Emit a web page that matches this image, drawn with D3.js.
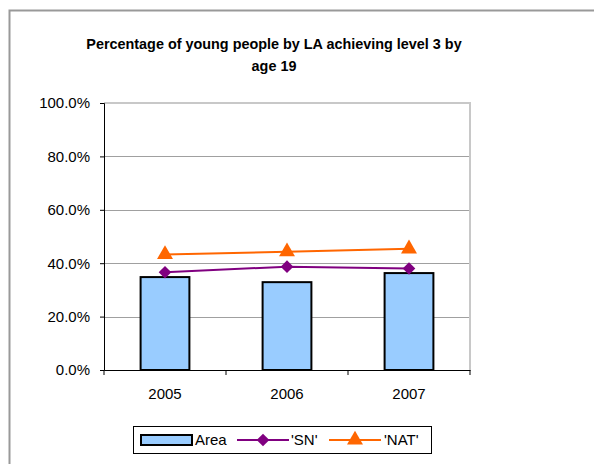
<!DOCTYPE html>
<html>
<head>
<meta charset="utf-8">
<script src="https://cdn.jsdelivr.net/npm/d3@7"></script>
<style>
  body { margin: 0; background: #fff; }
  text { font-family: "Liberation Sans", Arial, sans-serif; }
</style>
</head>
<body>
<svg id="chart" width="594" height="464"></svg>
<script>
const years = ["2005", "2006", "2007"]
const area = [0.348, 0.329, 0.363]
const sn = [0.366, 0.387, 0.380]
const nat = [0.433, 0.443, 0.454]
const yTicks = [0, 0.2, 0.4, 0.6, 0.8, 1.0]
const titleLines = ["Percentage of young people by LA achieving level 3 by", "age 19"]

let svg = d3.select("#chart")

//outer frame (runs off the right and bottom edge)
svg.append("rect")
  .attr("x", 9.5).attr("y", 10.5)
  .attr("width", 700).attr("height", 600)
  .attr("fill", "#fff").attr("stroke", "#999").attr("stroke-width", 2)

//title
svg.append("g").selectAll("text").data(titleLines).enter().append("text")
  .attr("x", 274).attr("y", (d, i) => 49 + i * 22)
  .attr("text-anchor", "middle")
  .attr("font-size", 14.4).attr("font-weight", "bold")
  .text(d => d)

let m = {left: 104, right: 470, top: 103, bottom: 370}
let x = d3.scaleBand().domain(years).range([m.left, m.right])
let y = d3.scaleLinear().domain([0, 1]).range([m.bottom, m.top])

//gridlines
svg.append("g").selectAll("line").data(yTicks.slice(1, -1)).enter().append("line")
  .attr("x1", m.left).attr("x2", m.right)
  .attr("y1", d => Math.round(y(d)) + 0.5).attr("y2", d => Math.round(y(d)) + 0.5)
  .attr("stroke", "#a0a0a0")

//plot border top / right
svg.append("path")
  .attr("d", `M${m.left},${m.top} H${m.right} V${m.bottom}`)
  .attr("fill", "none").attr("stroke", "#c8c8c8").attr("stroke-width", 2)

//bars
let bw = x.bandwidth() / 2.5
svg.append("g").selectAll("rect").data(area).enter().append("rect")
  .attr("x", (d, i) => x(years[i]) + x.bandwidth() / 2 - bw / 2)
  .attr("y", d => y(d))
  .attr("width", bw)
  .attr("height", d => m.bottom - y(d))
  .attr("fill", "#99ccff").attr("stroke", "#000").attr("stroke-width", 2)

//axes
let yAxis = d3.axisLeft(y).tickValues(yTicks).tickFormat(d3.format(".1%")).tickSize(4).tickPadding(10)
let gy = svg.append("g").attr("transform", `translate(${m.left},0)`).call(yAxis)
gy.select(".domain").attr("stroke", "#000")
gy.selectAll("text").attr("font-size", 15).attr("font-family", "Liberation Sans, Arial, sans-serif").attr("fill", "#000")

let xAxis = d3.axisBottom(x).tickSize(0)
let gx = svg.append("g").attr("transform", `translate(0,${m.bottom})`).call(xAxis)
gx.select(".domain").attr("stroke", "#000")
gx.selectAll("text").attr("y", 18).attr("font-size", 15).attr("font-family", "Liberation Sans, Arial, sans-serif").attr("fill", "#000")
//tick marks between categories
svg.append("g").selectAll("line").data([...years.map(d => x(d)), m.right]).enter().append("line")
  .attr("x1", d => d).attr("x2", d => d)
  .attr("y1", m.bottom).attr("y2", m.bottom + 5)
  .attr("stroke", "#000")

//lines
let cx = (d, i) => x(years[i]) + x.bandwidth() / 2
let line = d3.line().x(cx).y(d => y(d))
let diamond = d3.symbol().type(d3.symbolSquare).size(80)
let tri = d3.symbol().type(d3.symbolTriangle).size(110)

let series = [
  {name: "'SN'", vals: sn, color: "#800080", sym: diamond, rot: 45},
  {name: "'NAT'", vals: nat, color: "#ff6600", sym: tri, rot: 0},
]
series.forEach(s => {
  svg.append("path").attr("d", line(s.vals))
    .attr("fill", "none").attr("stroke", s.color).attr("stroke-width", 2)
  svg.append("g").selectAll("path").data(s.vals).enter().append("path")
    .attr("d", s.sym)
    .attr("transform", (d, i) => `translate(${cx(d, i)},${y(d)}) rotate(${s.rot})`)
    .attr("fill", s.color)
})

//legend
let lg = svg.append("g")
lg.append("rect").attr("x", 133.5).attr("y", 426.5).attr("width", 298).attr("height", 27)
  .attr("fill", "#fff").attr("stroke", "#000")
lg.append("rect").attr("x", 141).attr("y", 435).attr("width", 51).attr("height", 10)
  .attr("fill", "#99ccff").attr("stroke", "#000").attr("stroke-width", 2)
lg.append("text").attr("x", 195).attr("y", 445).attr("font-size", 15).text("Area")

let legItems = [{s: series[0], x0: 237, tx: 291}, {s: series[1], x0: 329, tx: 384}]
legItems.forEach(it => {
  lg.append("line").attr("x1", it.x0).attr("x2", it.x0 + 52).attr("y1", 440).attr("y2", 440)
    .attr("stroke", it.s.color).attr("stroke-width", 2)
  lg.append("path").attr("d", it.s.sym)
    .attr("transform", `translate(${it.x0 + 26},440) rotate(${it.s.rot})`)
    .attr("fill", it.s.color)
  lg.append("text").attr("x", it.tx).attr("y", 445).attr("font-size", 15).text(it.s.name)
})
</script>
</body>
</html>
